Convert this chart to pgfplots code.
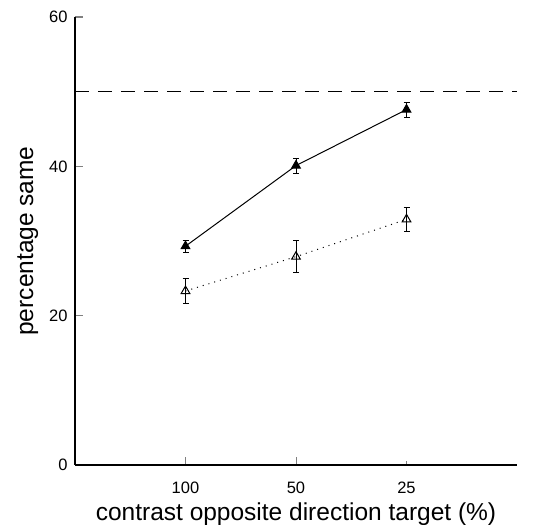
\documentclass[border=0pt]{standalone}
\usepackage{pgfplots}
\pgfplotsset{compat=1.18}
\usetikzlibrary{calc}
\usepackage{fontspec}
\setmainfont{Liberation Sans}

\begin{document}
\begin{tikzpicture}
\begin{axis}[
  name=ax,
  scale only axis, width=442pt, height=448pt,
  xmin=0, xmax=4, ymin=0, ymax=60,
  axis x line*=bottom, axis y line*=left,
  axis line style={line width=1.1pt},
  xtick={1,2,3}, xticklabels={100,50,25},
  ytick={0,20,40,60},
  tick align=inside,
  major tick length=8pt,
  xtick style={draw=gray, line width=0.6pt, shorten >=4pt},
  ytick style={line width=1.1pt},
  /pgf/number format/assume math mode=true,
  tick label style={font=\fontsize{16.5}{18}\selectfont},
  xticklabel style={yshift=-13pt},
  yticklabel style={xshift=-4pt},
  xlabel={contrast opposite direction target (\%)},
  ylabel={percentage same},
  label style={font=\fontsize{24.5}{28}\selectfont},
  xlabel style={yshift=-3pt},
  ylabel style={yshift=4pt},
  clip=false,
]
\addplot[black, line width=0.8pt, dash pattern=on 14pt off 9pt] coordinates {(0,50)(4,50)};
\addplot[black, line width=1pt, mark=triangle*, mark size=5pt,
  error bars/.cd, y dir=both, y explicit,
  error bar style={line width=1pt},
  error mark options={rotate=90, mark size=3pt, line width=1pt}]
  coordinates {(1,29.3) +- (0,0.8) (2,40.1) +- (0,1.0) (3,47.6) +- (0,1.0)};
\addplot[black, line width=1pt, dash pattern=on 1pt off 5pt, mark=triangle, mark size=5pt,
  mark options={solid, fill=white},
  error bars/.cd, y dir=both, y explicit,
  error bar style={line width=1pt, solid},
  error mark options={rotate=90, mark size=3pt, line width=1pt, solid}]
  coordinates {(1,23.3) +- (0,1.7) (2,27.9) +- (0,2.1) (3,32.9) +- (0,1.6)};
\end{axis}
\pgfresetboundingbox
\useasboundingbox (ax.south west) ++(-75pt,-60pt) rectangle ($(ax.north east)+(21pt,17pt)$);
\end{tikzpicture}
\end{document}
